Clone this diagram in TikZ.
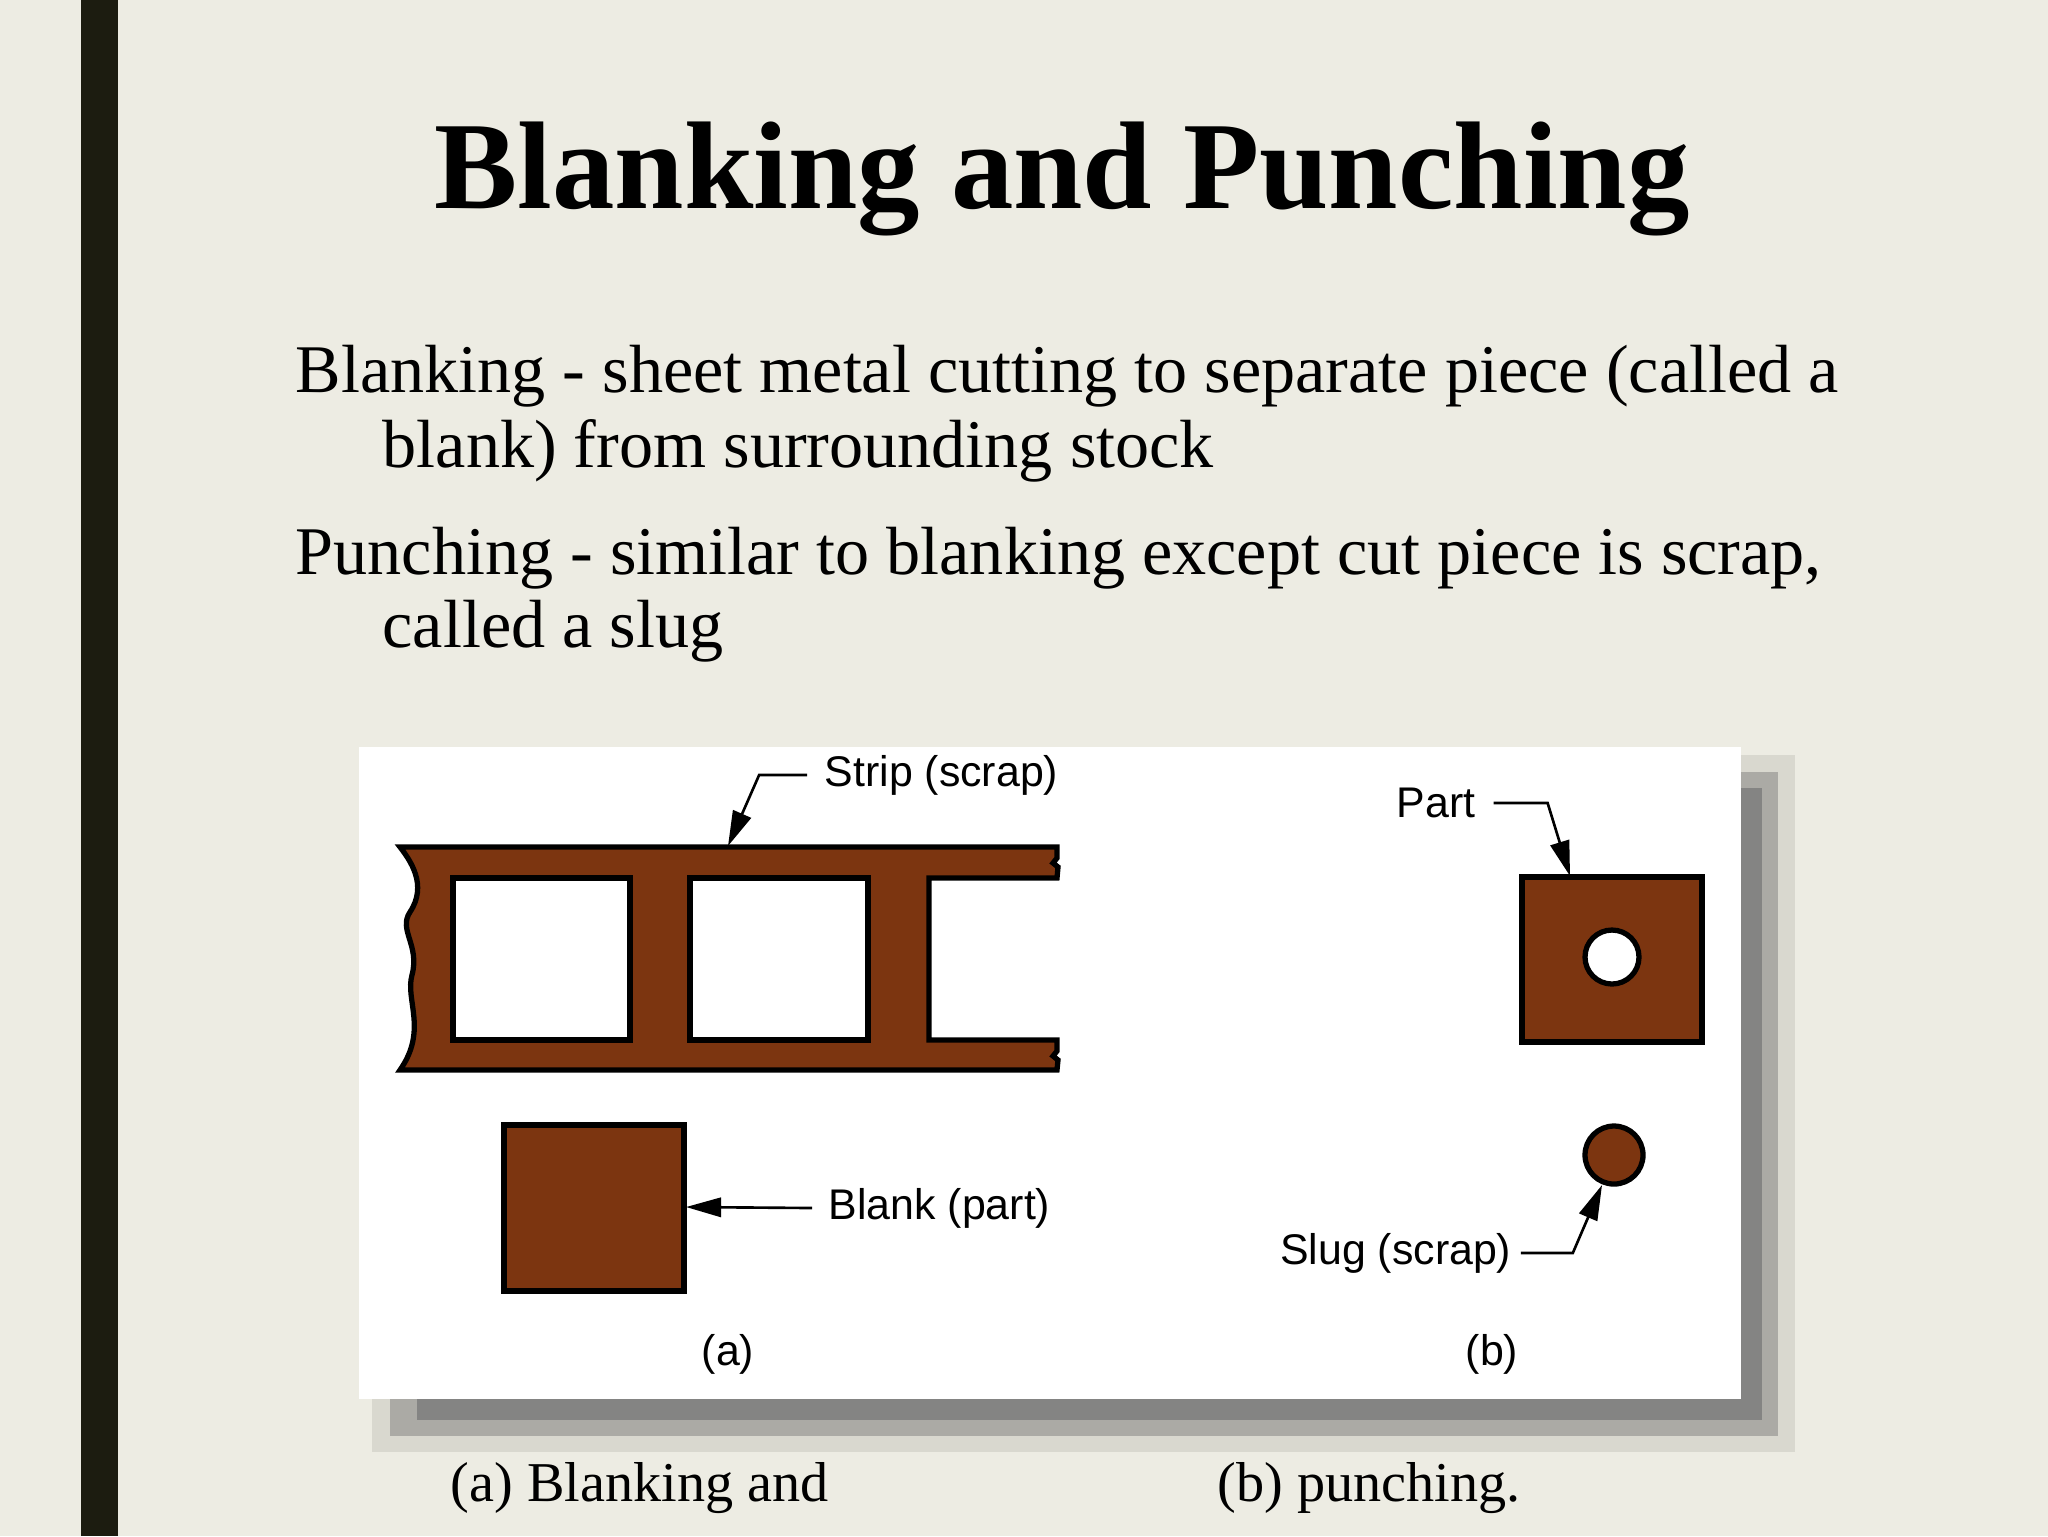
\documentclass[tikz,border=0pt]{standalone}
\usepackage{fontspec}
\setmainfont{Liberation Serif}
\newfontfamily\figfont{Liberation Sans}
\usetikzlibrary{arrows.meta}
\definecolor{slidebg}{HTML}{EDECE3}
\definecolor{barcol}{HTML}{1C1C10}
\definecolor{metal}{HTML}{7C3510}
\definecolor{shadowA}{HTML}{D9D8CF}
\definecolor{shadowB}{HTML}{ABAAA5}
\definecolor{shadowC}{HTML}{848483}

\begin{document}
\begin{tikzpicture}[x=0.1mm,y=-0.1mm,
    title/.style={anchor=base,inner sep=0pt,font=\fontsize{35.5}{40}\selectfont\bfseries},
    body/.style={anchor=base west,inner sep=0pt,font=\fontsize{19.4}{22}\selectfont},
    caption/.style={anchor=base west,inner sep=0pt,font=\fontsize{16}{19}\selectfont},
    lbl/.style={inner sep=0pt,font=\figfont\fontsize{12.2}{14}\selectfont},
    sheet/.style={fill=metal,draw=black,line width=1.5pt,line join=miter},
    hole/.style={fill=white,draw=black,line width=1.5pt},
    leader/.style={draw=black,line width=0.75pt,-{Triangle[length=10pt,width=5.5pt]}}]
  \useasboundingbox (0,0) rectangle (2048,1536);
  \fill[slidebg] (0,0) rectangle (2048,1536);
  \fill[barcol] (81,0) rectangle (118,1536);

  \node[title] (head) at (1062,208) {Blanking and Punching};
  \node[body] (b1) at (295,392) {Blanking - sheet metal cutting to separate piece (called a};
  \node[body] (b2) at (382,467) {blank) from surrounding stock};
  \node[body] (p1) at (295,574) {Punching - similar to blanking except cut piece is scrap,};
  \node[body] (p2) at (382,647) {called a slug};

  \fill[shadowA] (372,755) rectangle (1795,1452);
  \fill[shadowB] (390,772) rectangle (1778,1436);
  \fill[shadowC] (417,788) rectangle (1762,1420);
  \fill[white] (359,747) rectangle (1741,1399);

  \draw[sheet] (400,847) -- (1057,847) -- (1057,858) -- (1053,863) -- (1058,867) -- (1057,878)
    -- (929,878) -- (929,1040) -- (1057,1040) -- (1057,1051) -- (1053,1056) -- (1058,1060) -- (1057,1070)
    -- (400,1070) .. controls (428,1030) and (405,1000) .. (412,975)
    .. controls (420,945) and (398,930) .. (410,912)
    .. controls (428,885) and (410,860) .. cycle;
  \draw[hole] (453,878) rectangle (630,1040);
  \draw[hole] (690,878) rectangle (868,1040);
  \draw[sheet] (504,1125) rectangle (684,1291);

  \draw[sheet] (1522,877) rectangle (1702,1042);
  \draw[hole] (1612,957) circle (27);
  \draw[sheet] (1614,1155) circle (29);

  \node[lbl,anchor=west] (striplbl) at (824,775) {Strip (scrap)};
  \node[lbl,anchor=west] (blanklbl) at (828,1208) {Blank (part)};
  \node[lbl,anchor=west] (partlbl) at (1396,803) {Part};
  \node[lbl,anchor=east] (sluglbl) at (1512,1253) {Slug (scrap)};
  \node[lbl] (capa) at (728,1354) {(a)};
  \node[lbl] (capb) at (1492,1354) {(b)};

  \coordinate (stripin) at (728,846);
  \coordinate (blankin) at (686,1207);
  \coordinate (partin) at (1570,876);
  \coordinate (slugin) at (1602,1185);
  \draw[leader] ([xshift=-4.8pt]striplbl.west) -- ++(-48,0) -- (stripin);
  \draw[leader] ([xshift=-4.5pt]blanklbl.west) -- (blankin);
  \draw[leader] ([xshift=5pt]partlbl.east) -- ++(54,0) -- (partin);
  \draw[leader] ([xshift=2.5pt]sluglbl.east) -- ++(52,0) -- (slugin);

  \node[caption] (capl) at (450,1501) {(a) Blanking and};
  \node[caption] (capr) at (1217,1501) {(b) punching.};
\end{tikzpicture}
\end{document}
